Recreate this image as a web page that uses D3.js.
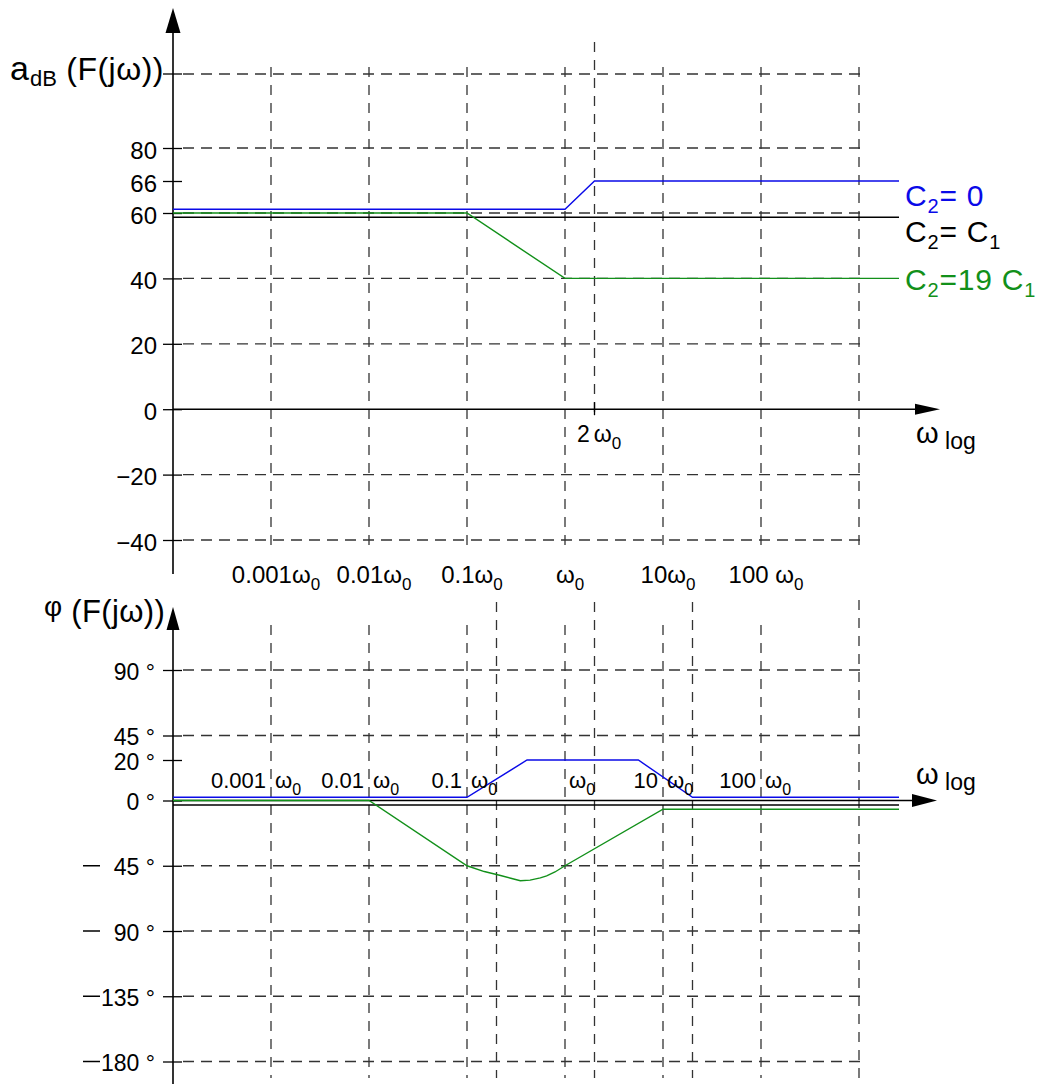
<!DOCTYPE html>
<html><head><meta charset="utf-8">
<script src="https://cdn.jsdelivr.net/npm/d3@7"></script>
<style>
body{margin:0;background:#fff}
svg{display:block}
text{font-family:"Liberation Sans", Arial, Helvetica, sans-serif}
</style>
</head><body>
<svg id="c" width="1053" height="1084"></svg>
<script>
// ---------- data ----------
const decades = [0.001, 0.01, 0.1, 1, 10, 100, 1000];
const extraPhaseLines = [0.2, 2, 20];
const cornerMag = 2;                         // 2ω0 marker
const magXNumbers = ["0.001", "0.01", "0.1", "", "10", "100 "];
const phXNumbers  = ["0.001", "0.01", "0.1", "", "10", "100"];

const magTickValues = [80, 66, 60, 40, 20, 0, -20, -40];
const magTickLabels = ["80", "66", "60", "40", "20", "0", "\u221220", "\u221240"];
const magGridValues = [80, 60, 40, 20, -20, -40];

const phTickValues = [90, 45, 20, 0, -45, -90, -135, -180];
const phTickLabels = ["90 °", "45 °", "20 °", "0 °", "45 °", "90 °", "135 °", "180 °"];
const phGridValues = [90, 45, -45, -90, -135, -180];

// magnitude (dB) : [ω/ω0, value]
const magBlue  = [[1e-4, 60.7], [1, 60.7], [2, 66], [2560, 66]];
const magBlack = [[1e-4, 58.7], [2560, 58.7]];
const magGreen = [[1e-4, 60], [0.1, 60], [1, 40], [2560, 40]];

// phase (deg) : [ω/ω0, value]
const phBlue  = [[1e-4, 1.6], [0.1, 1.6], [0.41, 20], [5.6, 20], [20, 1.6], [2560, 1.6]];
const phBlack = [[1e-4, -3.1], [2560, -3.1]];
const phGreen = [[1e-4, 0], [0.01, 0], [0.1, -45], [0.15, -49], [0.22, -51.7], [0.28, -53.6],
                 [0.35, -55.3], [0.44, -54.9], [0.56, -53.4], [0.65, -52], [0.79, -49.3],
                 [1, -45], [10, -6], [2560, -6]];

const legendNames = [["C", "2", "= 0", ""], ["C", "2", "= C", "1"], ["C", "2", "=19 C", "1"]];

const BLUE = "#0a0ae8", BLACK = "#000", GREEN = "#12901a", GRID = "#333";

// ---------- scales ----------
const svg = d3.select("#c");
svg.append("rect").attr("width", 1053).attr("height", 1084).attr("fill", "#fff");

const x = d3.scaleLog().domain([1e-4, 1e4]).range([173, 957]);
const yMag = d3.scaleLinear().domain([-40, 60, 66, 80]).range([540, 213, 181, 148]);
const yPh = d3.scaleLinear().domain([-180, 0, 20, 45, 90]).range([1061.5, 800.5, 760, 735.5, 670]);

const AX = 173, GRID_R = 867;
const titleY = 74;

// ---------- grids ----------
function hDash(y, x1, x2) {
  svg.append("line").attr("x1", x1).attr("x2", x2).attr("y1", y).attr("y2", y)
    .attr("stroke", GRID).attr("stroke-width", 1.3).attr("stroke-dasharray", "11,7");
}
function vDash(xp, y1, y2) {
  svg.append("line").attr("x1", xp).attr("x2", xp).attr("y1", y1).attr("y2", y2)
    .attr("stroke", GRID).attr("stroke-width", 1.3).attr("stroke-dasharray", "10,8");
}
// top
hDash(titleY, 183, GRID_R);
magGridValues.forEach(v => hDash(yMag(v), 183, GRID_R));
decades.forEach(d => vDash(x(d), 67, 548));
vDash(x(cornerMag), 42, 415);
// bottom
phGridValues.forEach(v => hDash(yPh(v), 183, GRID_R));
decades.forEach(d => vDash(x(d), d >= 1000 ? 600 : 625, 1078));
extraPhaseLines.forEach(d => vDash(x(d), 602, 1078));

// ---------- axes ----------
const axMag = d3.axisLeft(yMag).tickValues(magTickValues).tickSize(19).tickPadding(6)
  .tickFormat((d, i) => magTickLabels[i]);
const gM = svg.append("g").attr("transform", "translate(182,0)").call(axMag);
gM.select(".domain").remove();
gM.selectAll(".tick line").attr("stroke", "#000").attr("stroke-width", 1.3);
gM.selectAll(".tick text").attr("font-size", 24).attr("fill", "#000").attr("dy", "0.42em")
  .style("font-family", '"Liberation Sans", Arial, sans-serif');

const axPh = d3.axisLeft(yPh).tickValues(phTickValues).tickSize(19).tickPadding(8)
  .tickFormat((d, i) => phTickLabels[i]);
const gP = svg.append("g").attr("transform", "translate(182,0)").call(axPh);
gP.select(".domain").remove();
gP.selectAll(".tick line").attr("stroke", "#000").attr("stroke-width", 1.3);
gP.selectAll(".tick text").attr("font-size", 23).attr("fill", "#000").attr("dy", "0.4em")
  .style("font-family", '"Liberation Sans", Arial, sans-serif');
// long minus dashes for negative phase ticks
phTickValues.filter(v => v < 0).forEach(v => {
  svg.append("line").attr("x1", 83).attr("x2", 100).attr("y1", yPh(v)).attr("y2", yPh(v))
    .attr("stroke", "#000").attr("stroke-width", 1.5);
});
// title tick
svg.append("line").attr("x1", 163).attr("x2", 182).attr("y1", titleY).attr("y2", titleY)
  .attr("stroke", "#000").attr("stroke-width", 1.3);

// y axes with arrows
svg.append("line").attr("x1", AX).attr("x2", AX).attr("y1", 30).attr("y2", 574)
  .attr("stroke", "#000").attr("stroke-width", 1.6);
svg.append("path").attr("d", `M${AX - 7.5},33 L${AX},8 L${AX + 7.5},33 Z`).attr("fill", "#000");
svg.append("line").attr("x1", AX).attr("x2", AX).attr("y1", 628).attr("y2", 1084)
  .attr("stroke", "#000").attr("stroke-width", 1.6);
svg.append("path").attr("d", `M${AX - 6.5},630 L${AX},607 L${AX + 6.5},630 Z`).attr("fill", "#000");

// x axes with arrows
const y0m = yMag(0), y0p = yPh(0);
svg.append("line").attr("x1", AX).attr("x2", 918).attr("y1", y0m).attr("y2", y0m)
  .attr("stroke", "#000").attr("stroke-width", 1.6);
svg.append("path").attr("d", `M915,${y0m - 5.5} L940,${y0m} L915,${y0m + 5.5} Z`).attr("fill", "#000");
svg.append("line").attr("x1", x(cornerMag)).attr("x2", x(cornerMag)).attr("y1", y0m - 7).attr("y2", y0m + 6)
  .attr("stroke", "#000").attr("stroke-width", 1.3);
svg.append("line").attr("x1", AX).attr("x2", 915).attr("y1", y0p).attr("y2", y0p)
  .attr("stroke", "#000").attr("stroke-width", 1.6);
svg.append("path").attr("d", `M912,${y0p - 6.5} L937,${y0p} L912,${y0p + 6.5} Z`).attr("fill", "#000");

// ---------- curves ----------
const lineMag = d3.line().x(d => x(d[0])).y(d => yMag(d[1]));
const linePh = d3.line().x(d => x(d[0])).y(d => yPh(d[1]));
[[magBlack, BLACK], [magGreen, GREEN], [magBlue, BLUE]].forEach(([s, c]) =>
  svg.append("path").attr("d", lineMag(s)).attr("fill", "none").attr("stroke", c).attr("stroke-width", 1.4));
[[phBlack, BLACK], [phGreen, GREEN], [phBlue, BLUE]].forEach(([s, c]) =>
  svg.append("path").attr("d", linePh(s)).attr("fill", "none").attr("stroke", c).attr("stroke-width", 1.4));

// ---------- texts ----------
function sub(t, main, subTxt, fsMain, fsSub, dy) {
  t.append("tspan").text(main).attr("font-size", fsMain);
  t.append("tspan").text(subTxt).attr("font-size", fsSub).attr("dy", dy);
}
// titles
const tA = svg.append("text").attr("x", 10).attr("y", 80).attr("fill", "#000");
tA.append("tspan").text("a").attr("font-size", 34);
tA.append("tspan").text("dB").attr("font-size", 22).attr("dy", 6).attr("dx", 1);
tA.append("tspan").text(" (F(jω))").attr("font-size", 32).attr("dy", -6).attr("letter-spacing", 0.5);

const tP = svg.append("text").attr("x", 44).attr("y", 622).attr("fill", "#000");
tP.append("tspan").text("φ").attr("font-size", 28).attr("dy", -6);
tP.append("tspan").text(" (F(jω))").attr("font-size", 31).attr("dy", 6).attr("letter-spacing", 0.4);

// top x labels
decades.slice(0, 6).forEach((d, i) => {
  const t = svg.append("text").attr("x", x(d) + 5).attr("y", 583).attr("text-anchor", "middle").attr("fill", "#000");
  sub(t, magXNumbers[i] + "ω", "0", 24, 17, 7);
});
// 2ω0
{
  const t = svg.append("text").attr("x", 577).attr("y", 442).attr("fill", "#000");
  t.append("tspan").text("2").attr("font-size", 23);
  t.append("tspan").text("ω").attr("font-size", 23).attr("dx", 4);
  t.append("tspan").text("0").attr("font-size", 17).attr("dy", 7);
}
// bottom x labels
decades.slice(0, 6).forEach((d, i) => {
  if (phXNumbers[i]) {
    svg.append("text").attr("x", x(d) - 5).attr("y", 788).attr("text-anchor", "end")
      .attr("font-size", 22).attr("fill", "#000").text(phXNumbers[i]);
  }
  const t = svg.append("text").attr("x", x(d) + 4).attr("y", 788).attr("fill", "#000");
  sub(t, "ω", "0", 22, 16, 7);
});
// ω log labels
[443, 784].forEach(yb => {
  const t = svg.append("text").attr("x", 916).attr("y", yb).attr("fill", "#000");
  t.append("tspan").text("ω").attr("font-size", 29);
  t.append("tspan").text(" log").attr("font-size", 23).attr("dy", 6);
});

// legend
const legendColors = [BLUE, BLACK, GREEN];
const legendBase = [206, 242, 290];
legendNames.forEach((n, i) => {
  const t = svg.append("text").attr("x", 905).attr("y", legendBase[i]).attr("fill", legendColors[i])
    .attr("letter-spacing", 0.8);
  t.append("tspan").text(n[0]).attr("font-size", 30);
  t.append("tspan").text(n[1]).attr("font-size", 20).attr("dy", 7);
  t.append("tspan").text(n[2]).attr("font-size", 30).attr("dy", -7);
  if (n[3]) t.append("tspan").text(n[3]).attr("font-size", 20).attr("dy", 7);
});
</script>
</body></html>
